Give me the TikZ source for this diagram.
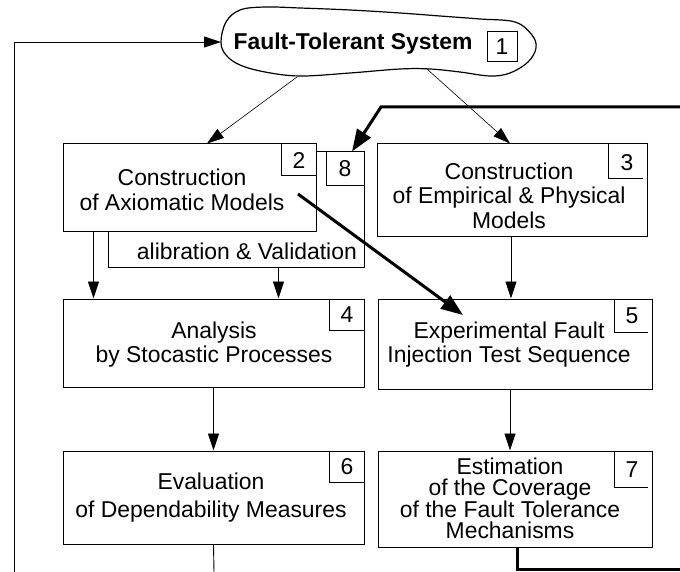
\documentclass[tikz,border=0pt]{standalone}
\usepackage{fontspec}
\setmainfont{Liberation Sans}
\usetikzlibrary{arrows.meta,calc}
\begin{document}
\begin{tikzpicture}[x=1pt,y=-1pt,
  box/.style={draw, line width=1pt, fill=white, inner sep=0pt},
  txt/.style={align=center, inner sep=0pt, font=\fontsize{22.9}{24.5}\selectfont},
  num/.style={inner sep=0pt, font=\fontsize{22.9}{24.5}\selectfont},
  thinarr/.style={line width=0.9pt, -{Triangle[length=17pt,width=11pt]}},
  hairarr/.style={line width=0.6pt, -{Triangle[length=17pt,width=11pt]}},
  thickarr/.style={line width=3pt, -{Triangle[length=22pt,width=16pt]}},
  plain/.style={line width=0.9pt}]

\useasboundingbox (0,0) rectangle (680,572);

% cloud
\draw[line width=1.2pt, fill=white] plot[smooth cycle, tension=0.6] coordinates {
 (221,42) (226,22) (240,10) (265,7) (300,8) (350,10) (400,13) (440,16) (480,19)
 (515,22) (532,35) (536,48) (528,62) (510,73) (490,76) (460,72) (430,69) (400,69)
 (350,73) (300,76) (265,72) (240,65) (226,55)};
\node[inner sep=0pt, font=\bfseries\fontsize{22.9}{24}\selectfont] (fts) at (353,44) {Fault-Tolerant System};
\node[box, num, minimum width=30pt, minimum height=30pt] (n1) at (502,47) {1};
\coordinate (cw) at (221,42);
\coordinate (cl2) at (297,77);
\coordinate (cl3) at (427,69);

% calibration frame and box 2
\node[box, fill=none, minimum width=256pt, minimum height=115pt] (cal) at (236,209.5) {};
\node[box, minimum width=253pt, minimum height=88pt] (b2) at (189.5,188) {};
\node[box, num, minimum width=38pt, minimum height=34pt] (n8) at (345,169) {8};
\node[txt] (t2) at (182,190) {Construction\\of Axiomatic Models};
\draw[plain] (281,143) -- (281,175) -- (316,175);
\node[num] (l2) at (299,161) {2};
\node[num, anchor=east] (calt) at (357,251) {alibration \& Validation};

% box 3
\node[box, minimum width=270pt, minimum height=93pt] (b3) at (512,190.5) {};
\node[txt] (t3) at (509,195.5) {Construction\\of Empirical \& Physical\\Models};
\draw[plain] (608,144) -- (608,178) -- (643,178);
\node[num] (l3) at (627,163) {3};

% box 4
\node[box, minimum width=301pt, minimum height=88pt] (b4) at (213.5,343) {};
\node[txt] (t4) at (214,344.5) {Analysis\\by Stocastic Processes};
\draw[plain] (329,299) -- (329,330) -- (364,330);
\node[num] (l4) at (347,315) {4};

% box 5
\node[box, minimum width=274pt, minimum height=90pt] (b5) at (515,344) {};
\node[txt] (t5) at (509,344.5) {Experimental Fault\\Injection Test Sequence};
\draw[plain] (614,299) -- (614,332) -- (648,332);
\node[num] (l5) at (632,316) {5};

% box 6
\node[box, minimum width=301pt, minimum height=93pt] (b6) at (213.5,497.5) {};
\node[txt, font=\fontsize{22.9}{28}\selectfont] (t6) at (211,498) {Evaluation\\of Dependability Measures};
\draw[plain] (329,451) -- (329,482) -- (364,482);
\node[num] (l6) at (347,467) {6};

% box 7
\node[box, minimum width=274pt, minimum height=96pt] (b7) at (515,499) {};
\node[txt, font=\fontsize{22.9}{21}\selectfont] (t7) at (510,498.5) {Estimation\\of the Coverage\\of the Fault Tolerance\\Mechanisms};
\draw[plain] (614,451) -- (614,487) -- (648,487);
\node[num] (l7) at (632,470) {7};

% connectors
\draw[hairarr] (cl2) -- ([xshift=17.5pt]b2.north);
\draw[hairarr] (cl3) -- ([xshift=-2pt]b3.north);
\draw[thinarr] ([xshift=31pt]b2.south west) -- ([xshift=31pt]b4.north west);
\draw[thinarr] ([xshift=-86pt]cal.south east) -- ([xshift=-86pt]b4.north east);
\draw[thinarr] (b4.south) -- (b6.north);
\draw[thinarr] ([xshift=-1pt]b3.south) -- ([xshift=-1pt]b3.south |- b5.north);
\draw[thinarr] ([xshift=-5pt]b5.south) -- ([xshift=-5pt]b7.north);

\coordinate (d1) at (298,194);
\coordinate (d2) at (463,315);
\draw[thickarr] (d1) -- (d2);

\coordinate (rt) at (680,107);
\coordinate (bend) at (381,107);
\draw[thickarr] (rt) -- (bend) -- ([xshift=7pt]n8.north);

\coordinate (rb) at (680,569);
\draw[line width=3pt] ([xshift=2pt]b7.south) |- (rb);

\coordinate (fb) at (14,572);
\draw[thinarr] (fb) |- (cw);

\coordinate (b6b) at (214,572);
\draw[plain] (b6.south) -- (b6b);
\end{tikzpicture}
\end{document}
